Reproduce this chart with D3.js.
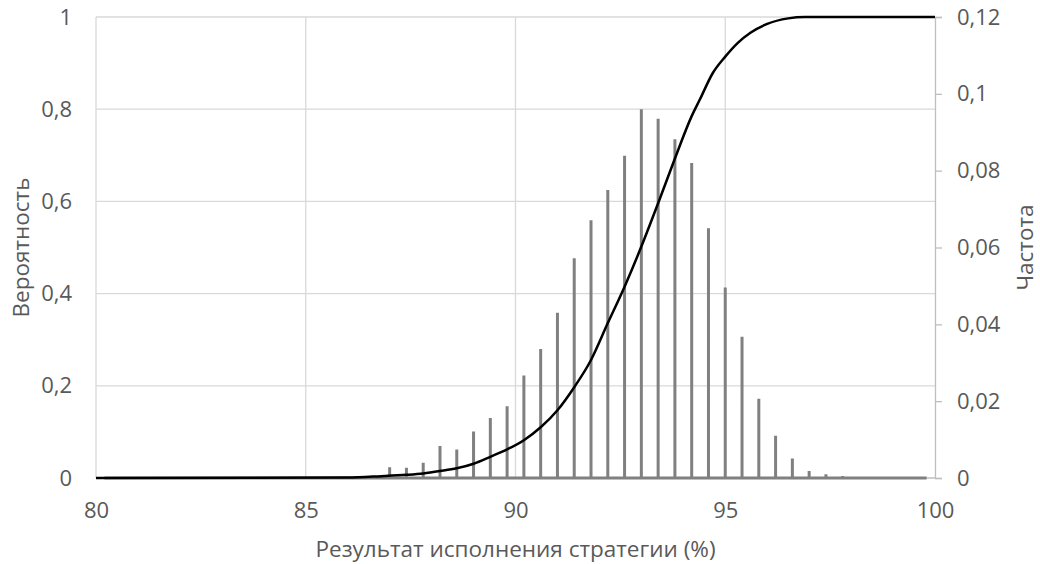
<!DOCTYPE html>
<html>
<head>
<meta charset="utf-8">
<script src="https://cdn.jsdelivr.net/npm/d3@7"></script>
<style>
  body { margin: 0; background: #fff; }
  svg text { font-family: "Open Sans", sans-serif; fill: #595959; }
</style>
</head>
<body>
<div id="chart"></div>
<script>
// bin centres of the frequency series (%)
const freqBins = [
  80.2, 80.6, 81.0, 81.4, 81.8, 82.2, 82.6, 83.0, 83.4, 83.8,
  84.2, 84.6, 85.0, 85.4, 85.8, 86.2, 86.6, 87.0, 87.4, 87.8,
  88.2, 88.6, 89.0, 89.4, 89.8, 90.2, 90.6, 91.0, 91.4, 91.8,
  92.2, 92.6, 93.0, 93.4, 93.8, 94.2, 94.6, 95.0, 95.4, 95.8,
  96.2, 96.6, 97.0, 97.4, 97.8, 98.2, 98.6, 99.0, 99.4, 99.8
];
// frequency (right axis)
const freqValues = [
  0, 0, 0, 0, 0, 0, 0, 0, 0, 0,
  0, 0, 0, 0.0003, 0.0001, 0.0005, 0.0005, 0.0028, 0.0027, 0.0040,
  0.0083, 0.0074, 0.0121, 0.0156, 0.0187, 0.0267, 0.0336, 0.0430, 0.0572, 0.0671,
  0.0750, 0.0839, 0.0960, 0.0935, 0.0882, 0.0820, 0.0650, 0.0496, 0.0368, 0.0206,
  0.0110, 0.0051, 0.0018, 0.0010, 0.0005, 0, 0, 0, 0, 0
];
// cumulative probability (left axis)
const cdfX = [80, 86.0, 86.8, 87.4, 87.8, 88.2, 88.6, 89.0, 89.4, 89.8, 90.2, 90.6, 91.0, 91.4,
  91.8, 92.2, 92.6, 93.0, 93.4, 93.8, 94.2, 94.4, 94.7, 95.0, 95.3, 95.6, 96.0, 96.5, 96.9, 100];
const cdfY = [0, 0.001, 0.004, 0.007, 0.010, 0.015, 0.021, 0.031, 0.046, 0.062, 0.082, 0.110, 0.147, 0.197,
  0.256, 0.336, 0.415, 0.502, 0.596, 0.693, 0.785, 0.822, 0.878, 0.914, 0.944, 0.966, 0.985, 0.997, 1.0, 1.0];

const xTicks = [80, 85, 90, 95, 100];
const leftTicks = [0, 0.2, 0.4, 0.6, 0.8, 1];
const rightTicks = [0, 0.02, 0.04, 0.06, 0.08, 0.1, 0.12];

const width = 1040, height = 564;
const margin = { top: 17, right: 105, bottom: 86, left: 96 };
const plotW = width - margin.left - margin.right;
const plotH = height - margin.top - margin.bottom;
const fontSize = '22px';

const fmt = d => String(d).replace('.', ',');

const svg = d3.select('#chart')
  .append('svg')
  .attr('width', width)
  .attr('height', height);

const g = svg.append('g')
  .attr('transform', `translate(${margin.left},${margin.top})`);

const x = d3.scaleLinear().domain([80, 100]).range([0, plotW]);
const yL = d3.scaleLinear().domain([0, 1]).range([plotH, 0]);
const yR = d3.scaleLinear().domain([0, 0.12]).range([plotH, 0]);

// gridlines
g.append('g')
  .selectAll('line')
  .data(leftTicks.slice(1))
  .enter()
  .append('line')
  .attr('x1', 0).attr('x2', plotW)
  .attr('y1', d => yL(d)).attr('y2', d => yL(d))
  .attr('stroke', '#d9d9d9').attr('stroke-width', 1.3);

g.append('g')
  .selectAll('line')
  .data(xTicks.slice(0, -1))
  .enter()
  .append('line')
  .attr('x1', d => x(d)).attr('x2', d => x(d))
  .attr('y1', 0).attr('y2', plotH)
  .attr('stroke', '#d9d9d9').attr('stroke-width', 1.3);

// x axis line
g.append('line')
  .attr('x1', 0).attr('x2', plotW)
  .attr('y1', plotH).attr('y2', plotH)
  .attr('stroke', '#bfbfbf').attr('stroke-width', 1.3);

// right axis
const rightAxis = g.append('g')
  .attr('transform', `translate(${plotW},0)`)
  .call(d3.axisRight(yR).tickValues(rightTicks).tickSize(7).tickPadding(15).tickFormat(fmt));
rightAxis.select('.domain').attr('stroke', '#bfbfbf').attr('stroke-width', 1.3);
rightAxis.selectAll('.tick line').attr('stroke', '#bfbfbf').attr('stroke-width', 1.3);
rightAxis.selectAll('.tick text').style('font-size', fontSize).attr('fill', '#595959');

// left axis labels (no line, no ticks)
const leftAxis = g.append('g')
  .call(d3.axisLeft(yL).tickValues(leftTicks).tickSize(0).tickPadding(24).tickFormat(fmt));
leftAxis.select('.domain').remove();
leftAxis.selectAll('.tick text').style('font-size', fontSize).attr('fill', '#595959');

// bottom axis labels
const bottomAxis = g.append('g')
  .attr('transform', `translate(0,${plotH})`)
  .call(d3.axisBottom(x).tickValues(xTicks).tickSize(0).tickPadding(24).tickFormat(d3.format('d')));
bottomAxis.select('.domain').remove();
bottomAxis.selectAll('.tick text').style('font-size', fontSize).attr('fill', '#595959');

// frequency series: vertical drops joined along the baseline
const freqPts = [];
freqBins.forEach((b, i) => {
  freqPts.push([b, 0], [b, freqValues[i]], [b, 0]);
});
const freqLine = d3.line()
  .x(d => x(d[0]))
  .y(d => yR(d[1]));

g.append('path')
  .datum(freqPts)
  .attr('d', freqLine)
  .attr('fill', 'none')
  .attr('stroke', '#808080')
  .attr('stroke-width', 3)
  .attr('stroke-linejoin', 'miter');

// cumulative probability
const cdfLine = d3.line()
  .x((d, i) => x(cdfX[i]))
  .y(d => yL(d))
  .curve(d3.curveMonotoneX);

g.append('path')
  .datum(cdfY)
  .attr('d', cdfLine)
  .attr('fill', 'none')
  .attr('stroke', '#000')
  .attr('stroke-width', 2.5);

// axis titles
svg.append('text')
  .attr('x', margin.left + plotW / 2)
  .attr('y', 557)
  .attr('text-anchor', 'middle')
  .style('font-size', '22.5px')
  .text('Результат исполнения стратегии (%)');

svg.append('text')
  .attr('transform', `translate(29,${margin.top + plotH / 2}) rotate(-90)`)
  .attr('text-anchor', 'middle')
  .style('font-size', '22.5px')
  .text('Вероятность');

svg.append('text')
  .attr('transform', `translate(1033,${margin.top + plotH / 2}) rotate(-90)`)
  .attr('text-anchor', 'middle')
  .style('font-size', '22.5px')
  .text('Частота');
</script>
</body>
</html>
